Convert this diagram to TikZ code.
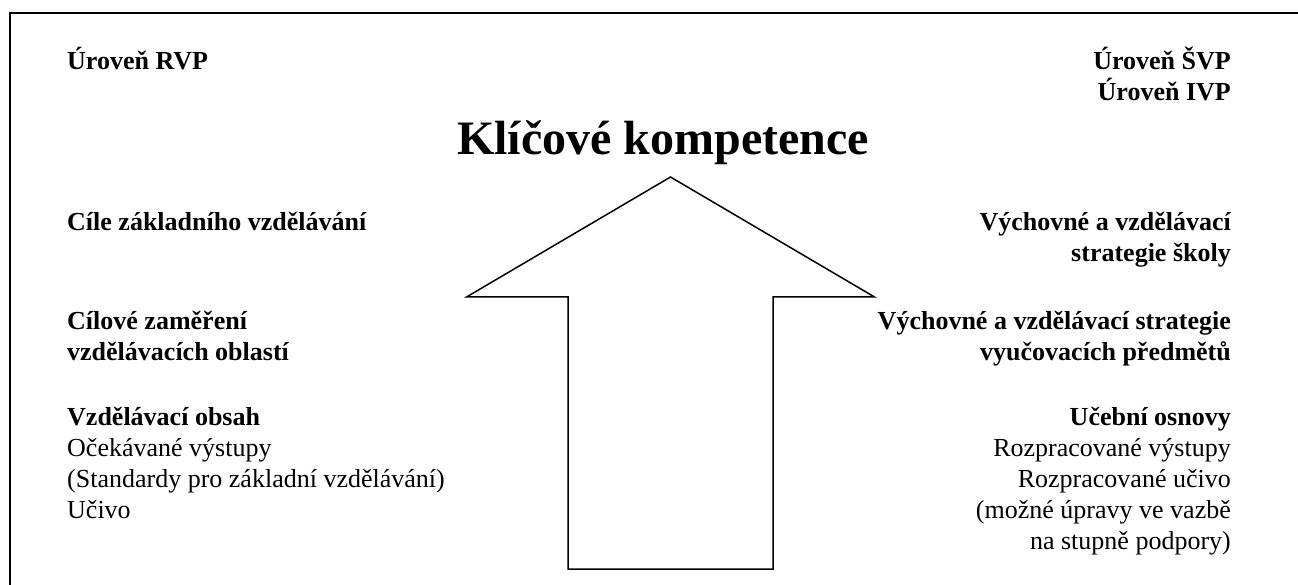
\documentclass[tikz,border=0pt]{standalone}
\usepackage{fontspec}
\setmainfont{Liberation Serif}
\begin{document}
\begin{tikzpicture}[x=1pt,y=-1pt,
  lbl/.style={inner sep=0pt,font=\fontsize{26}{31}\selectfont},
  bl/.style={lbl,font=\fontsize{26}{31}\selectfont\bfseries},
  L/.style={anchor=base west},
  R/.style={anchor=base east},
  frameline/.style={line width=2pt},
  arrowline/.style={line width=1.5pt,line join=miter}]
\useasboundingbox (0,0) rectangle (1298,585);
% frame
\coordinate (fb) at (10,585);
\coordinate (ftl) at (10,13);
\coordinate (fr) at (1298,13);
\draw[frameline] (fb) -- (ftl) -- (fr);
% arrow
\coordinate (tip) at (670.5,177);
\coordinate (hl) at (466.5,297);
\coordinate (hr) at (874.5,297);
\coordinate (sl) at (568,297);
\coordinate (sr) at (773,297);
\coordinate (bl) at (568,569);
\coordinate (br) at (773,569);
\draw[arrowline] (tip) -- (hr) -- (sr) -- (br) -- (bl) -- (sl) -- (hl) -- cycle;
% title
\node[inner sep=0pt,anchor=base,font=\fontsize{48}{56}\selectfont\bfseries] (title) at (663,155) {Klíčové kompetence};
% left column
\node[bl,L] (rvp) at (67,70) {Úroveň RVP};
\node[bl,L] (cile) at (67,231) {Cíle základního vzdělávání};
\node[bl,L] (zam1) at (67,329) {Cílové zaměření};
\node[bl,L] (zam2) at (67,360) {vzdělávacích oblastí};
\node[bl,L] (obs) at (67,425) {Vzdělávací obsah};
\node[lbl,L] (ocek) at (67,456) {Očekávané výstupy};
\node[lbl,L] (std) at (67,487) {(Standardy pro základní vzdělávání)};
\node[lbl,L] (uciv) at (67,518) {Učivo};
% right column
\node[bl,R] (svp) at (1231,70) {Úroveň ŠVP};
\node[bl,R] (ivp) at (1231,101) {Úroveň IVP};
\node[bl,R] (vs1) at (1231,231) {Výchovné a vzdělávací};
\node[bl,R] (vs2) at (1231,262) {strategie školy};
\node[bl,R] (vp1) at (1231,329) {Výchovné a vzdělávací strategie};
\node[bl,R] (vp2) at (1231,360) {vyučovacích předmětů};
\node[bl,R] (osn) at (1231,425) {Učební osnovy};
\node[lbl,R] (rv) at (1231,456) {Rozpracované výstupy};
\node[lbl,R] (ru) at (1231,487) {Rozpracované učivo};
\node[lbl,R] (mu) at (1231,518) {(možné úpravy ve vazbě};
\node[lbl,R] (sp) at (1231,549) {na stupně podpory)};
\end{tikzpicture}
\end{document}
